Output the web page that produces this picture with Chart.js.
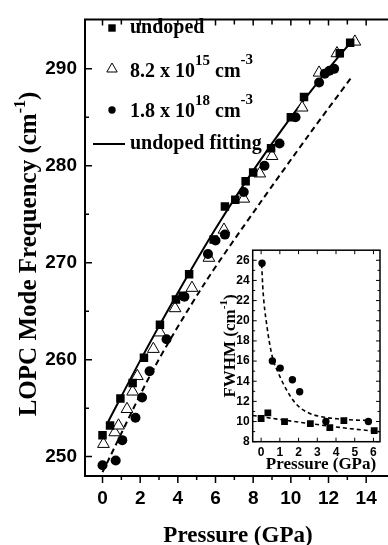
<!DOCTYPE html>
<html>
<head>
<meta charset="utf-8">
<script src="https://cdn.jsdelivr.net/npm/chart.js@4.4.1/dist/chart.umd.min.js"></script>
<style>
  body { margin: 0; background: #fff; }
  #wrap { position: relative; width: 388px; height: 545px; overflow: hidden; }
  #mainChart { position: absolute; left: 0; top: 0; }
  #insetChart { position: absolute; left: 200px; top: 240px; }
</style>
</head>
<body>
<div id="wrap">
  <canvas id="mainChart" width="388" height="545"></canvas>
  <canvas id="insetChart" width="188" height="236"></canvas>
</div>
<script>
// ---- main plot data (pressure in GPa, LOPC frequency in cm-1) ----
const undopedP = [0.0, 0.4, 0.95, 1.6, 2.2, 3.05, 3.9, 4.25, 4.6, 5.9, 6.5, 7.05, 7.6, 8.0, 8.95, 10.0, 10.7, 12.6, 13.15];
const undopedF = [252.2, 253.2, 256.0, 257.6, 260.2, 263.6, 266.2, 266.6, 268.8, 272.4, 275.8, 276.5, 278.4, 279.3, 281.8, 285.0, 287.1, 291.6, 292.7];

const lowP = [0.05, 0.65, 0.85, 1.3, 1.6, 1.85, 2.7, 3.05, 3.85, 4.75, 5.65, 6.45, 7.5, 8.35, 9.0, 10.6, 11.5, 12.45, 13.4];
const lowF = [251.3, 252.5, 253.2, 254.9, 256.7, 258.3, 261.1, 262.8, 265.3, 267.4, 270.5, 273.4, 276.6, 279.2, 281.0, 286.0, 289.6, 291.6, 292.8];

const highP = [0.0, 0.7, 1.05, 1.75, 2.1, 2.5, 3.4, 4.35, 5.6, 6.0, 6.5, 7.5, 8.6, 9.4, 10.25, 11.5, 11.8, 12.05, 12.3];
const highF = [249.1, 249.6, 251.7, 254.0, 256.1, 258.8, 262.1, 266.5, 270.9, 272.3, 272.9, 277.3, 280.0, 282.3, 285.0, 288.6, 289.5, 289.8, 290.0];

// solid fit through undoped points, and the dashed guide line
const fitP = [0.3, 2, 4, 6, 8, 10, 12, 13.3];
const fitF = [253.6, 259.9, 266.9, 273.5, 279.5, 285.0, 290.0, 293.0];
const dashP = [0, 2.7, 5.4, 8.27, 11, 13.25];
const dashF = [248.4, 259.0, 267.8, 275.9, 283.3, 289.2];

const xTicks = [0, 2, 4, 6, 8, 10, 12, 14];
const xMinor = [1, 3, 5, 7, 9, 11, 13];
const yTicks = [250, 260, 270, 280, 290];
const yMinor = [255, 265, 275, 285];

// ---- inset data (FWHM in cm-1) ----
const inHighP = [0.05, 0.6, 1.02, 1.67, 2.06, 3.46, 5.73];
const inHighW = [25.7, 16.0, 15.3, 14.15, 12.95, 10.0, 10.0];
const inUndopedP = [0.0, 0.36, 1.25, 2.63, 3.67, 4.42, 6.04];
const inUndopedW = [10.3, 10.85, 10.0, 9.8, 9.4, 10.1, 9.1];
const inCurveHighP = [0.03, 0.1, 0.3, 0.6, 0.9, 1.2, 1.6, 2.0, 2.6, 3.3, 4.2, 5.0, 5.9];
const inCurveHighW = [25.6, 23.0, 19.6, 16.4, 14.9, 13.7, 12.4, 11.5, 10.8, 10.45, 10.25, 10.15, 10.1];
const inCurveLowP = [-0.45, 1.2, 3.0, 4.75, 6.3];
const inCurveLowW = [10.6, 10.15, 9.7, 9.3, 9.0];

const inXTicks = [0, 1, 2, 3, 4, 5, 6];
const inYTicks = [8, 10, 12, 14, 16, 18, 20, 22, 24, 26];
const inYMinor = [9, 11, 13, 15, 17, 19, 21, 23, 25];

const SERIF = '"Liberation Serif", "Times New Roman", serif';
const SANS = '"Liberation Sans", Arial, sans-serif';

function pts(xs, ys) {
    return xs.map((v, i) => ({ x: v, y: ys[i] }));
}

// draw text made of parts, some raised as superscripts
function richWidth(ctx, parts) {
    let w = 0;
    parts.forEach(p => {
        ctx.font = 'bold ' + p.size + 'px ' + SERIF;
        w += ctx.measureText(p.text).width;
    });
    return w;
}
function drawRich(ctx, parts, x, y) {
    parts.forEach(p => {
        ctx.font = 'bold ' + p.size + 'px ' + SERIF;
        ctx.fillText(p.text, x, y - (p.rise || 0));
        x += ctx.measureText(p.text).width;
    });
}

// tick marks along one edge; dir = +1/-1 is the direction the tick points
function drawXTicks(ctx, scale, values, yEdge, len, dir) {
    values.forEach(v => {
        const px = scale.getPixelForValue(v);
        ctx.moveTo(px, yEdge);
        ctx.lineTo(px, yEdge + dir * len);
    });
}
function drawYTicks(ctx, scale, values, xEdge, len, dir) {
    values.forEach(v => {
        const py = scale.getPixelForValue(v);
        ctx.moveTo(xEdge, py);
        ctx.lineTo(xEdge + dir * len, py);
    });
}

const tickFont = size => ({ family: SANS, size: size, weight: 'bold' });

// frame, ticks, titles and legend of the main plot
const mainDecor = {
    id: 'mainDecor',
    afterDraw(chart) {
        const { ctx, chartArea: a, scales: { x, y } } = chart;
        ctx.save();
        ctx.strokeStyle = '#000';
        ctx.fillStyle = '#000';
        ctx.lineWidth = 2;
        ctx.beginPath();
        ctx.moveTo(chart.width, a.top);
        ctx.lineTo(a.left, a.top);
        ctx.lineTo(a.left, a.bottom);
        ctx.lineTo(chart.width, a.bottom);
        ctx.stroke();

        ctx.lineWidth = 1.5;
        ctx.beginPath();
        drawYTicks(ctx, y, yTicks, a.left, 7, 1);
        drawYTicks(ctx, y, yMinor, a.left, 4, 1);
        drawXTicks(ctx, x, xTicks, a.bottom, 7, 1);
        drawXTicks(ctx, x, xMinor, a.bottom, 4, 1);
        drawXTicks(ctx, x, xTicks, a.top, 6, 1);
        drawXTicks(ctx, x, xMinor, a.top, 5, 1);
        ctx.stroke();

        // axis titles
        ctx.textBaseline = 'alphabetic';
        const xt = [{ text: 'Pressure (GPa)', size: 23 }];
        drawRich(ctx, xt, 238 - richWidth(ctx, xt) / 2, 542);

        const yt = [
            { text: 'LOPC Mode Frequency (cm', size: 25 },
            { text: '-1', size: 16, rise: 11 },
            { text: ')', size: 25 }
        ];
        ctx.save();
        ctx.translate(36, 254);
        ctx.rotate(-Math.PI / 2);
        drawRich(ctx, yt, -richWidth(ctx, yt) / 2, 0);
        ctx.restore();

        // legend
        ctx.fillRect(108.3, 24.3, 7.4, 7.4);
        ctx.lineWidth = 1;
        ctx.beginPath();
        ctx.moveTo(112, 63);
        ctx.lineTo(117.2, 72);
        ctx.lineTo(106.8, 72);
        ctx.closePath();
        ctx.stroke();
        ctx.beginPath();
        ctx.arc(112, 110, 3.7, 0, Math.PI * 2);
        ctx.fill();
        ctx.lineWidth = 2;
        ctx.beginPath();
        ctx.moveTo(93, 144);
        ctx.lineTo(125, 144);
        ctx.stroke();

        drawRich(ctx, [{ text: 'undoped', size: 20 }], 130, 33);
        drawRich(ctx, [
            { text: '8.2 x 10', size: 20 },
            { text: '15', size: 15, rise: 12 },
            { text: ' cm', size: 20 },
            { text: '-3', size: 15, rise: 13 }
        ], 130, 77);
        drawRich(ctx, [
            { text: '1.8 x 10', size: 20 },
            { text: '18', size: 15, rise: 12 },
            { text: ' cm', size: 20 },
            { text: '-3', size: 15, rise: 13 }
        ], 130, 117);
        drawRich(ctx, [{ text: 'undoped fitting', size: 20 }], 130, 149);
        ctx.restore();
    }
};

new Chart(document.getElementById('mainChart'), {
    type: 'scatter',
    data: {
        datasets: [
            { label: '1.8 x 10^18 cm^-3', data: pts(highP, highF), pointStyle: 'circle', pointRadius: 5,
              backgroundColor: '#000', borderColor: '#000', borderWidth: 0, order: 0 },
            { label: 'undoped', data: pts(undopedP, undopedF), pointStyle: 'rect', pointRadius: 6,
              backgroundColor: '#000', borderColor: '#000', borderWidth: 0, order: 1 },
            { label: '8.2 x 10^15 cm^-3', data: pts(lowP, lowF), pointStyle: 'triangle', pointRadius: 6.8,
              backgroundColor: '#fff', borderColor: '#000', borderWidth: 1, order: 2 },
            { label: 'undoped fitting', data: pts(fitP, fitF), showLine: true, pointRadius: 0,
              borderColor: '#000', borderWidth: 2, tension: 0.3, order: 3 },
            { label: 'guide', data: pts(dashP, dashF), showLine: true, pointRadius: 0,
              borderColor: '#000', borderWidth: 2, borderDash: [6, 4], tension: 0.3, order: 4 }
        ]
    },
    options: {
        responsive: false,
        animation: false,
        devicePixelRatio: 1,
        layout: { padding: { top: 11, right: 0, left: 0, bottom: 0 } },
        plugins: { legend: { display: false }, tooltip: { enabled: false } },
        scales: {
            x: {
                type: 'linear', min: -0.93, max: 14.53,
                grid: { display: false, drawTicks: false },
                border: { display: false },
                afterBuildTicks: s => { s.ticks = xTicks.map(v => ({ value: v })); },
                afterFit: s => { s.height = 69; },
                ticks: { font: tickFont(19), color: '#000', padding: 11, maxRotation: 0 }
            },
            y: {
                type: 'linear', min: 248, max: 295.1,
                grid: { display: false, drawTicks: false },
                border: { display: false },
                afterBuildTicks: s => { s.ticks = yTicks.map(v => ({ value: v })); },
                afterFit: s => { s.width = 85; },
                ticks: { font: tickFont(19), color: '#000', padding: 8 }
            }
        }
    },
    plugins: [mainDecor]
});

// frame, ticks and titles of the inset
const insetDecor = {
    id: 'insetDecor',
    beforeDraw(chart) {
        const { ctx, chartArea: a } = chart;
        ctx.save();
        ctx.fillStyle = '#fff';
        ctx.fillRect(a.left, a.top, a.right - a.left, a.bottom - a.top);
        ctx.restore();
    },
    afterDraw(chart) {
        const { ctx, chartArea: a, scales: { x, y } } = chart;
        ctx.save();
        ctx.strokeStyle = '#000';
        ctx.fillStyle = '#000';
        ctx.lineWidth = 1.5;
        ctx.strokeRect(a.left, a.top, a.right - a.left, a.bottom - a.top);

        ctx.lineWidth = 1;
        ctx.beginPath();
        drawYTicks(ctx, y, inYTicks, a.left, 4, 1);
        drawYTicks(ctx, y, inYMinor, a.left, 2.5, 1);
        drawYTicks(ctx, y, inYTicks, a.right, 4, -1);
        drawYTicks(ctx, y, inYMinor, a.right, 2.5, -1);
        drawXTicks(ctx, x, inXTicks, a.bottom, 4, -1);
        drawXTicks(ctx, x, inXTicks, a.top, 4, 1);
        ctx.stroke();

        ctx.textBaseline = 'alphabetic';
        const xt = [{ text: 'Pressure (GPa)', size: 17 }];
        drawRich(ctx, xt, 121 - richWidth(ctx, xt) / 2, 229);

        const yt = [
            { text: 'FWHM (cm', size: 17 },
            { text: '-1', size: 11, rise: 8 },
            { text: ')', size: 17 }
        ];
        ctx.save();
        ctx.translate(35, 106);
        ctx.rotate(-Math.PI / 2);
        drawRich(ctx, yt, -richWidth(ctx, yt) / 2, 0);
        ctx.restore();
        ctx.restore();
    }
};

new Chart(document.getElementById('insetChart'), {
    type: 'scatter',
    data: {
        datasets: [
            { label: '1.8 x 10^18', data: pts(inHighP, inHighW), pointStyle: 'circle', pointRadius: 3.7,
              backgroundColor: '#000', borderColor: '#000', borderWidth: 0, order: 0 },
            { label: 'undoped', data: pts(inUndopedP, inUndopedW), pointStyle: 'rect', pointRadius: 4.8,
              backgroundColor: '#000', borderColor: '#000', borderWidth: 0, order: 1 },
            { label: 'fit high', data: pts(inCurveHighP, inCurveHighW), showLine: true, pointRadius: 0,
              borderColor: '#000', borderWidth: 1.6, borderDash: [4, 3], cubicInterpolationMode: 'monotone', order: 2 },
            { label: 'fit undoped', data: pts(inCurveLowP, inCurveLowW), showLine: true, pointRadius: 0,
              borderColor: '#000', borderWidth: 1.6, borderDash: [4, 3], cubicInterpolationMode: 'monotone', order: 3 }
        ]
    },
    options: {
        responsive: false,
        animation: false,
        devicePixelRatio: 1,
        layout: { padding: { top: 10, right: 8, left: 0, bottom: 0 } },
        plugins: { legend: { display: false }, tooltip: { enabled: false } },
        scales: {
            x: {
                type: 'linear', min: -0.45, max: 6.35,
                grid: { display: false, drawTicks: false },
                border: { display: false },
                afterBuildTicks: s => { s.ticks = inXTicks.map(v => ({ value: v })); },
                afterFit: s => { s.height = 34.3; },
                ticks: { font: tickFont(12), color: '#000', padding: 4, maxRotation: 0 }
            },
            y: {
                type: 'linear', min: 8, max: 27.0,
                grid: { display: false, drawTicks: false },
                border: { display: false },
                afterBuildTicks: s => { s.ticks = inYTicks.map(v => ({ value: v })); },
                afterFit: s => { s.width = 52.7; },
                ticks: { font: tickFont(12), color: '#000', padding: 3 }
            }
        }
    },
    plugins: [insetDecor]
});
</script>
</body>
</html>
